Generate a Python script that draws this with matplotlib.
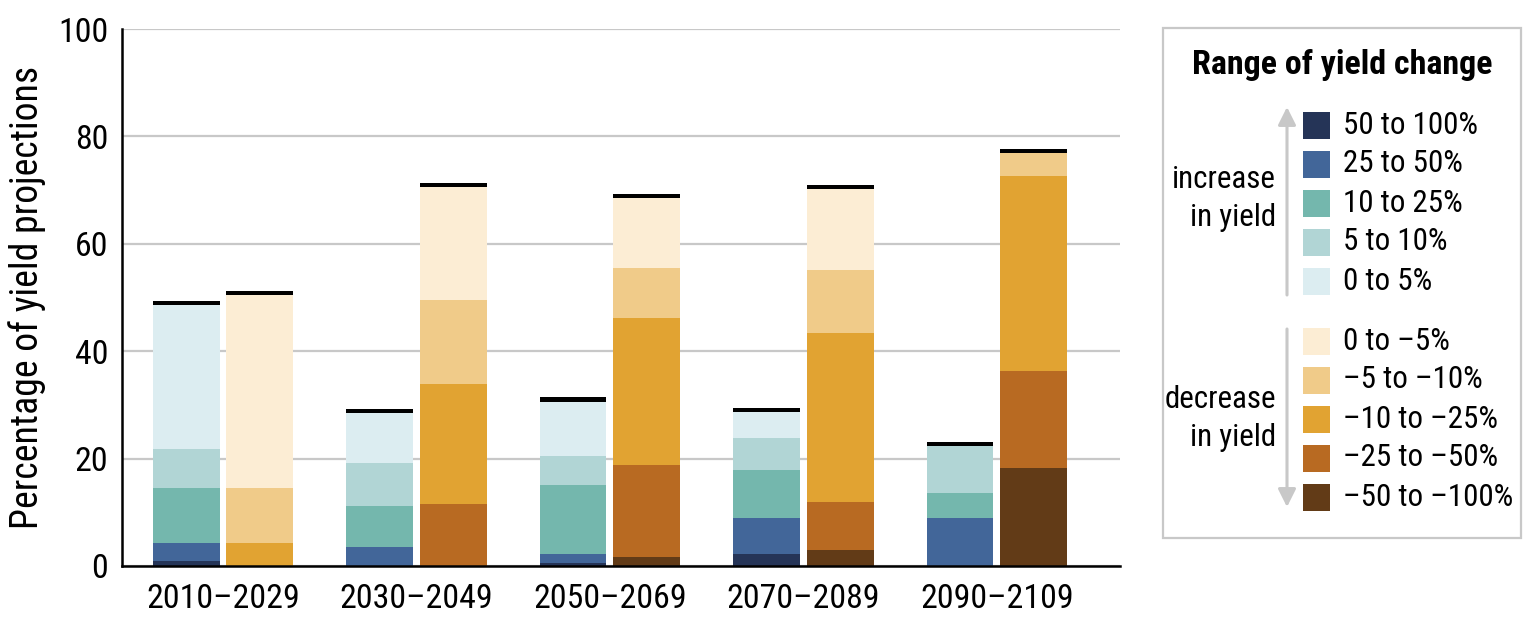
import numpy as np
import matplotlib
matplotlib.use('Agg')
import matplotlib.pyplot as plt
from matplotlib import font_manager as fm
from matplotlib.patches import Rectangle


def pick_narrow_font():
    # look for a narrow / condensed sans face, else plain DejaVu Sans
    pref = ['Liberation Sans Narrow', 'Roboto Condensed', 'Open Sans Condensed',
            'Noto Sans Condensed', 'DejaVu Sans Condensed', 'Noto Sans', 'Open Sans',
            'DejaVu Sans', 'Roboto', 'Lato', 'Inter']
    bad = ['Semi', 'Extra', 'Ultra', 'Mono', 'Serif', 'Italic', 'Oblique', 'CJK', 'Display']
    found = []
    for f in fm.fontManager.ttflist:
        fn = f.fname.split('/')[-1]
        if ('Condensed' in fn or 'Narrow' in fn) and not any(b in fn for b in bad):
            found.append(f)
    for p in pref:
        for f in found:
            if f.name == p:
                return f.name, f.stretch
    if found:
        return found[0].name, found[0].stretch
    return 'DejaVu Sans', 'normal'


font_name, font_stretch = pick_narrow_font()
plt.rcParams['font.family'] = [font_name, 'DejaVu Sans']
plt.rcParams['font.stretch'] = font_stretch

periods = ['2010–2029', '2030–2049', '2050–2069', '2070–2089', '2090–2109']

# increase in yield (bottom to top)
inc_labels = ['50 to 100%', '25 to 50%', '10 to 25%', '5 to 10%', '0 to 5%']
inc_colors = ['#253457', '#426699', '#74b7ad', '#b1d5d5', '#dcedf1']
inc_50_100 = [0.9, 0.0, 0.6, 2.2, 0.0]
inc_25_50 = [3.3, 3.6, 1.6, 6.7, 9.0]
inc_10_25 = [10.3, 7.5, 12.8, 8.9, 4.6]
inc_5_10 = [7.2, 8.1, 5.5, 6.1, 8.7]
inc_0_5 = [26.9, 9.2, 10.1, 4.7, 0.0]

# decrease in yield (stacked from -50..-100 at the bottom)
dec_labels = ['0 to –5%', '–5 to –10%', '–10 to –25%', '–25 to –50%', '–50 to –100%']
dec_colors = ['#fcedd4', '#f0cb89', '#e1a332', '#b86a22', '#623b17']
dec_50_100 = [0.0, 0.0, 1.7, 2.9, 18.2]
dec_25_50 = [0.0, 11.5, 17.1, 9.0, 18.2]
dec_10_25 = [4.2, 22.4, 27.3, 31.4, 36.3]
dec_5_10 = [10.3, 15.6, 9.4, 11.9, 4.2]
dec_0_5 = [35.9, 21.1, 13.0, 15.0, 0.0]

fig = plt.figure(figsize=(15.3, 6.25), dpi=100)
ax = fig.add_axes([122/1530, 1-566/625, 998/1530, 537/625])

x = np.arange(len(periods))
w = 0.346
off = 0.191

inc = [inc_50_100, inc_25_50, inc_10_25, inc_5_10, inc_0_5]
dec = [dec_50_100, dec_25_50, dec_10_25, dec_5_10, dec_0_5]

bottom = np.zeros(5)
for vals, c in zip(inc, inc_colors):
    ax.bar(x - off, vals, w, bottom=bottom, color=c, linewidth=0)
    bottom += np.array(vals)
ax.bar(x - off, 0.8, w, bottom=bottom, color='black', linewidth=0)

bottom = np.zeros(5)
for vals, c in zip(dec, dec_colors[::-1]):
    ax.bar(x + off, vals, w, bottom=bottom, color=c, linewidth=0)
    bottom += np.array(vals)
ax.bar(x + off, 0.8, w, bottom=bottom, color='black', linewidth=0)

ax.set_xlim(-0.522, 4.636)
ax.set_ylim(0, 100)
ax.set_yticks([0, 20, 40, 60, 80, 100])
ax.set_xticks(x)
ax.set_xticklabels(periods)
ax.tick_params(axis='both', length=0, labelsize=26)
ax.tick_params(axis='y', pad=10)
ax.tick_params(axis='x', pad=12)
ax.yaxis.grid(True, color='#c8c8c8', linewidth=1.6)
ax.set_axisbelow(True)
for s in ['top', 'right']:
    ax.spines[s].set_visible(False)
for s in ['left', 'bottom']:
    ax.spines[s].set_linewidth(1.8)
ylab = ax.set_ylabel('Percentage of yield projections', fontsize=27)
ax.yaxis.set_label_coords((46 - 122) / 998, 0.5)

# legend drawn by hand
lax = fig.add_axes([0, 0, 1, 1])
lax.set_xlim(0, 1530)
lax.set_ylim(625, 0)
lax.axis('off')
lax.add_patch(Rectangle((1163, 28), 358, 510, fill=False, ec='#c8c8c8', lw=1.6))
title = lax.text(1342, 65, 'Range of yield change', fontsize=24, fontweight='bold',
                 ha='center', va='center')

leg_texts = []
rows_inc = 125 + 39 * np.arange(5)
rows_dec = 341 + 39 * np.arange(5)
for yy, lab, c in zip(rows_inc, inc_labels, inc_colors):
    lax.add_patch(Rectangle((1303, yy - 13.5), 27, 27, color=c, lw=0))
    leg_texts.append(lax.text(1343, yy, lab, fontsize=22.5, va='center', ha='left'))
for yy, lab, c in zip(rows_dec, dec_labels, dec_colors):
    lax.add_patch(Rectangle((1303, yy - 13.5), 27, 27, color=c, lw=0))
    leg_texts.append(lax.text(1343, yy, lab, fontsize=22.5, va='center', ha='left'))

side = [lax.text(1276, 179, 'increase', fontsize=22.5, ha='right', va='center'),
        lax.text(1276, 217, 'in yield', fontsize=22.5, ha='right', va='center'),
        lax.text(1276, 400, 'decrease', fontsize=22.5, ha='right', va='center'),
        lax.text(1276, 438, 'in yield', fontsize=22.5, ha='right', va='center')]

arrow = dict(arrowstyle='-|>,head_length=0.6,head_width=0.3', color='#c8c8c8',
             lw=2.2, mutation_scale=18, shrinkA=0, shrinkB=0)
lax.annotate('', xy=(1287, 107), xytext=(1287, 295), arrowprops=arrow)
lax.annotate('', xy=(1287, 507), xytext=(1287, 329), arrowprops=arrow)

# size the text so its width matches the reference, whatever font was found
fig.canvas.draw()
r = fig.canvas.get_renderer()


def scale_for(t, target, size, use_height=False):
    bb = t.get_window_extent(r)
    cur = bb.height if use_height else bb.width
    return min(size, size * target / cur)


tick_fs = scale_for(ax.get_xticklabels()[0], 153, 26)
ax.tick_params(axis='both', labelsize=tick_fs)
ylab.set_fontsize(scale_for(ylab, 445, 28, use_height=True))
title.set_fontsize(scale_for(title, 295, 24.5))
leg_fs = scale_for(leg_texts[0], 132, 23)
for t in leg_texts + side:
    t.set_fontsize(leg_fs)

fig.savefig('out.png', dpi=100)
